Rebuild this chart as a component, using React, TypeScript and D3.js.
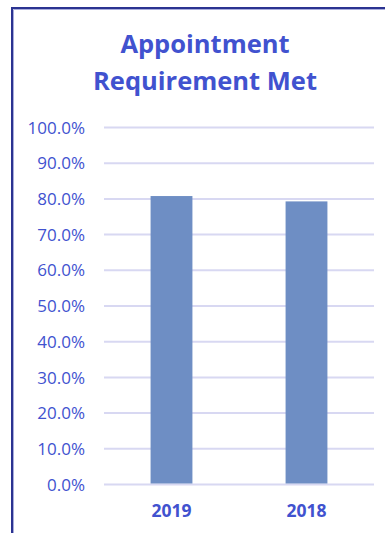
import React from "react";
import * as d3 from "d3";

const categories = ["2019", "2018"];
const values = [80.8, 79.3];
const tickValues = [0, 10, 20, 30, 40, 50, 60, 70, 80, 90, 100];
const titleLines = ["Appointment", "Requirement Met"];

const W = 385;
const H = 533;
const TEXT = "#4152CF";
const FONT = "'Open Sans', 'Noto Sans', sans-serif";

export default function App() {
  const plotLeft = 104;
  const plotRight = 374;
  const y = d3.scaleLinear().domain([0, 100]).range([484.5, 127.5]);
  const x = d3
    .scaleBand<string>()
    .domain(categories)
    .range([plotLeft, plotRight])
    .paddingInner(0.69)
    .paddingOuter(0.345);

  return (
    <div style={{ position: "fixed", left: 0, top: 0 }}>
      <svg width={W} height={H} style={{ display: "block" }}>
        <rect x={0} y={0} width={W} height={H} fill="#fff" />
        {/* chart frame */}
        <path d={`M12,${H + 5} V8 H${W + 5}`} fill="none" stroke="#2B3391" strokeWidth={2} />
        <path d={`M13.5,${H + 5} V9.5 H${W + 5}`} fill="none" stroke="#A9ADDC" strokeWidth={1} />

        {titleLines.map((t, i) => (
          <text
            key={t}
            x={205}
            y={53 + i * 37}
            textAnchor="middle"
            fontFamily={FONT}
            fontWeight="bold"
            fontSize={25.5}
            fill={TEXT}
          >
            {t}
          </text>
        ))}

        {tickValues.map((v) => (
          <g key={v}>
            <line
              x1={plotLeft}
              x2={plotRight}
              y1={y(v)}
              y2={y(v)}
              stroke="#D8D8F2"
              strokeWidth={2}
            />
            <text
              x={85}
              y={y(v)}
              dy="0.36em"
              textAnchor="end"
              fontFamily={FONT}
              fontSize={17}
              fill={TEXT}
            >
              {d3.format(".1f")(v) + "%"}
            </text>
          </g>
        ))}

        {categories.map((c, i) => (
          <g key={c}>
            <rect
              x={x(c)!}
              y={y(values[i])}
              width={x.bandwidth()}
              height={y(0) - y(values[i]) - 1}
              fill="#6E8EC4"
            />
            <text
              x={x(c)! + x.bandwidth() / 2}
              y={517}
              textAnchor="middle"
              fontFamily={FONT}
              fontWeight="bold"
              fontSize={17.5}
              fill={TEXT}
            >
              {c}
            </text>
          </g>
        ))}
      </svg>
    </div>
  );
}
